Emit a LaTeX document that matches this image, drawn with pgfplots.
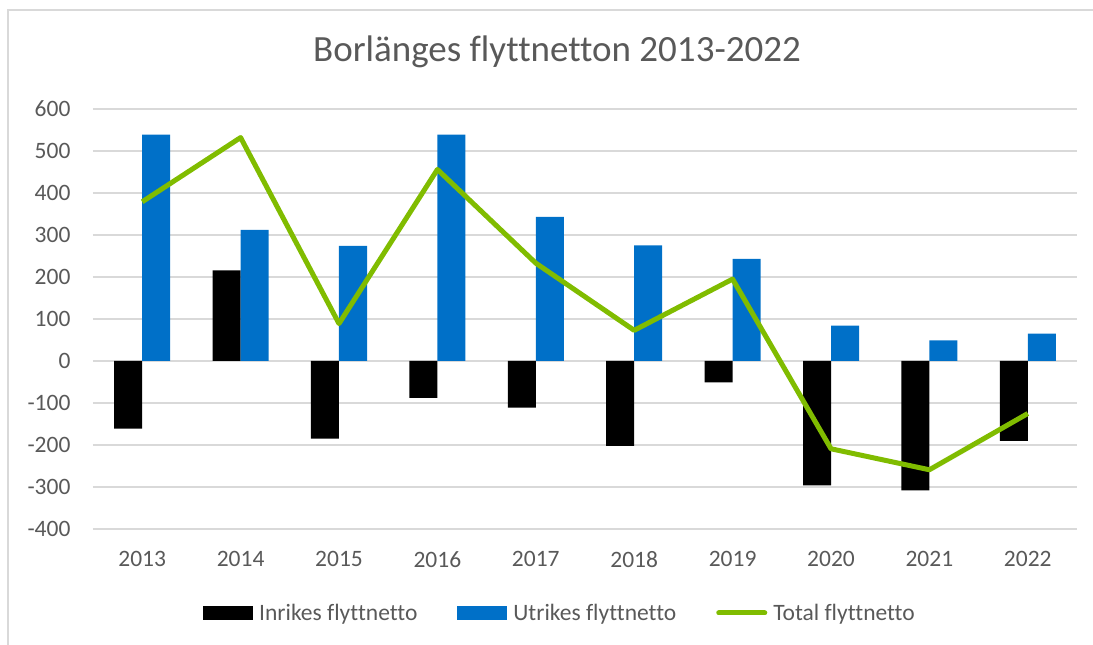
\documentclass[border=0pt]{standalone}
\usepackage{fontspec}
\setmainfont{Carlito}[Ligatures=NoCommon]
\usepackage{pgfplots}
\pgfplotsset{compat=1.18}
\definecolor{txtgray}{HTML}{595959}
\definecolor{gridgray}{HTML}{D9D9D9}
\definecolor{barblue}{HTML}{0070C8}
\definecolor{linegreen}{HTML}{80BC00}
\begin{document}
\begin{tikzpicture}[x=1pt,y=1pt]
\useasboundingbox (0,0) rectangle (1093,645);
\draw[gridgray, line width=1.5pt] (8,0) -- (8,635) -- (1093,635);
\node[text=txtgray, font=\fontsize{37}{40}\selectfont] at (557,593) {Borlänges flyttnetton 2013-2022};
\begin{axis}[
  at={(93pt,116pt)}, anchor=south west,
  scale only axis, width=984pt, height=420pt,
  xmin=-0.5, xmax=9.5, ymin=-400, ymax=600,
  xtick={0,...,9},
  xticklabels={2013,2014,2015,2016,2017,2018,2019,2020,2021,2022},
  ytick={-400,-300,...,600},
  yticklabel={\pgfmathprintnumber[assume math mode=true]{\tick}},
  axis line style={draw=none},
  major tick length=0pt,
  ymajorgrids, grid style={gridgray, line width=1.5pt},
  tick label style={text=txtgray, font=\fontsize{23.5}{26}\selectfont},
  xticklabel style={yshift=-19pt},
  yticklabel style={xshift=-19pt},
  legend columns=3,
  legend style={at={(0.4746,-0.2)}, anchor=center, draw=none, fill=none,
    font=\fontsize{23.5}{26}\selectfont, text=txtgray,
    /tikz/every odd column/.append style={column sep=4pt},
    /tikz/every even column/.append style={column sep=38pt},
    inner sep=0pt},
  legend cell align=left,
]
\addplot[ybar, bar width=28pt, bar shift=-14pt, fill=black, draw=none,
  legend image code/.code={\fill[black] (0pt,-7pt) rectangle (50pt,7pt);}]
  coordinates {(0,-161) (1,216) (2,-185) (3,-88) (4,-111) (5,-202) (6,-51) (7,-296) (8,-308) (9,-190)};
\addlegendentry{Inrikes flyttnetto}
\addplot[ybar, bar width=28pt, bar shift=14pt, fill=barblue, draw=none,
  legend image code/.code={\fill[barblue] (0pt,-7pt) rectangle (50pt,7pt);}]
  coordinates {(0,539) (1,312) (2,274) (3,539) (4,343) (5,275) (6,243) (7,84) (8,49) (9,65)};
\addlegendentry{Utrikes flyttnetto}
\addplot[sharp plot, linegreen, line width=5pt, line join=round, no marks,
  legend image code/.code={\draw[linegreen, line width=5pt, line cap=round] (2pt,0pt) -- (48pt,0pt);}]
  coordinates {(0,379) (1,532) (2,89) (3,456) (4,233) (5,73) (6,195) (7,-209) (8,-259) (9,-125)};
\addlegendentry{Total flyttnetto}
\end{axis}
\end{tikzpicture}
\end{document}
